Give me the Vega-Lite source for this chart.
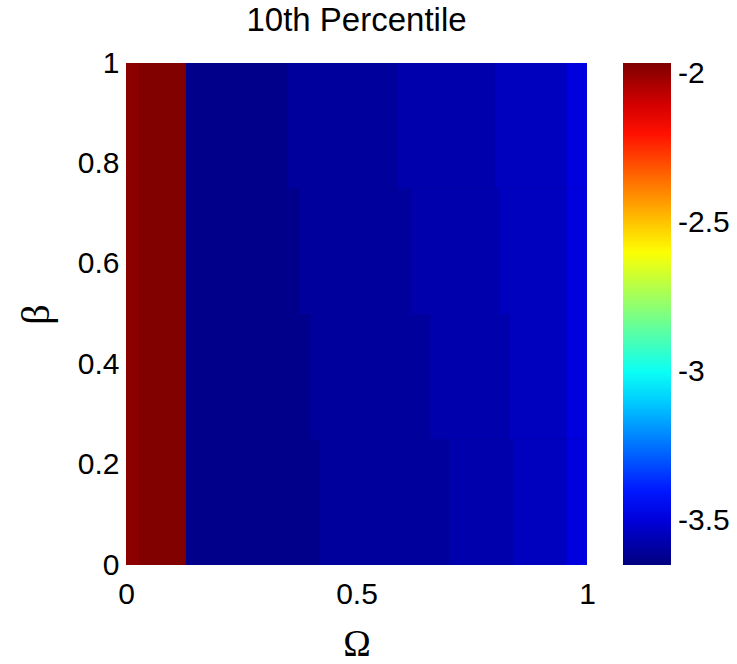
{
  "$schema": "https://vega.github.io/schema/vega-lite/v6.json",
  "width": 461,
  "height": 502,
  "autosize": {"type": "none"},
  "padding": {"left": 126, "top": 63, "right": 150, "bottom": 99},
  "background": "white",
  "title": {"text": "10th Percentile", "fontSize": 33, "font": "Liberation Sans", "fontWeight": "normal", "baseline": "alphabetic", "offset": -16, "color": "black", "anchor": "middle"},
  "data": {"values": [
    {"o0": 0, "o1": 0.03, "b0": 0, "b1": 1, "p": -1.984},
    {"o0": 0.03, "o1": 0.13, "b0": 0, "b1": 1, "p": -1.966},
    {"o0": 0.13, "o1": 0.42, "b0": 0, "b1": 0.25, "p": -3.628},
    {"o0": 0.42, "o1": 0.70, "b0": 0, "b1": 0.25, "p": -3.598},
    {"o0": 0.70, "o1": 0.84, "b0": 0, "b1": 0.25, "p": -3.572},
    {"o0": 0.84, "o1": 0.955, "b0": 0, "b1": 0.25, "p": -3.543},
    {"o0": 0.955, "o1": 1, "b0": 0, "b1": 0.25, "p": -3.49},
    {"o0": 0.13, "o1": 0.40, "b0": 0.25, "b1": 0.5, "p": -3.628},
    {"o0": 0.40, "o1": 0.66, "b0": 0.25, "b1": 0.5, "p": -3.598},
    {"o0": 0.66, "o1": 0.83, "b0": 0.25, "b1": 0.5, "p": -3.572},
    {"o0": 0.83, "o1": 0.955, "b0": 0.25, "b1": 0.5, "p": -3.543},
    {"o0": 0.955, "o1": 1, "b0": 0.25, "b1": 0.5, "p": -3.49},
    {"o0": 0.13, "o1": 0.375, "b0": 0.5, "b1": 0.75, "p": -3.628},
    {"o0": 0.375, "o1": 0.62, "b0": 0.5, "b1": 0.75, "p": -3.598},
    {"o0": 0.62, "o1": 0.81, "b0": 0.5, "b1": 0.75, "p": -3.572},
    {"o0": 0.81, "o1": 0.955, "b0": 0.5, "b1": 0.75, "p": -3.543},
    {"o0": 0.955, "o1": 1, "b0": 0.5, "b1": 0.75, "p": -3.49},
    {"o0": 0.13, "o1": 0.35, "b0": 0.75, "b1": 1, "p": -3.628},
    {"o0": 0.35, "o1": 0.59, "b0": 0.75, "b1": 1, "p": -3.598},
    {"o0": 0.59, "o1": 0.80, "b0": 0.75, "b1": 1, "p": -3.572},
    {"o0": 0.80, "o1": 0.955, "b0": 0.75, "b1": 1, "p": -3.543},
    {"o0": 0.955, "o1": 1, "b0": 0.75, "b1": 1, "p": -3.49}
  ]},
  "mark": {"type": "rect", "strokeWidth": 0},
  "encoding": {
    "x": {"field": "o0", "type": "quantitative", "scale": {"domain": [0, 1], "nice": false, "zero": false},
      "axis": {"values": [0, 0.5, 1], "title": "Ω", "titleFont": "Liberation Serif", "titleFontSize": 37, "titleFontWeight": "normal", "titleColor": "black", "titlePadding": 17,
        "labelFont": "Liberation Sans", "labelFontSize": 30, "labelColor": "black", "labelPadding": 14, "labelFlush": false, "labelOverlap": false,
        "labelExpr": "'' + datum.value", "ticks": false, "domain": false, "grid": false}},
    "x2": {"field": "o1"},
    "y": {"field": "b0", "type": "quantitative", "scale": {"domain": [0, 1], "nice": false, "zero": false},
      "axis": {"values": [0, 0.2, 0.4, 0.6, 0.8, 1], "title": "β", "titleFont": "Liberation Serif", "titleFontSize": 40, "titleFontWeight": "normal", "titleColor": "black", "titlePadding": 21,
        "labelFont": "Liberation Sans", "labelFontSize": 30, "labelColor": "black", "labelPadding": 7, "labelFlush": false, "labelOverlap": false,
        "labelExpr": "'' + datum.value", "ticks": false, "domain": false, "grid": false}},
    "y2": {"field": "b1"},
    "color": {"field": "p", "type": "quantitative",
      "scale": {"domain": [-3.648, -1.963], "range": ["#00007F", "#0000FF", "#007FFF", "#00FFFF", "#7FFF7F", "#FFFF00", "#FF7F00", "#FF0000", "#7F0000"], "interpolate": "rgb"},
      "legend": {"title": null, "orient": "right", "offset": 36, "padding": 0, "direction": "vertical", "gradientLength": 502, "gradientThickness": 48, "gradientStrokeWidth": 0,
        "values": [-3.5, -3, -2.5, -2], "labelExpr": "'' + datum.value", "labelFont": "Liberation Sans", "labelFontSize": 30, "labelColor": "black", "labelOffset": 7, "labelOverlap": false}}
  },
  "config": {"view": {"stroke": null, "fill": "#00008C"}}
}
